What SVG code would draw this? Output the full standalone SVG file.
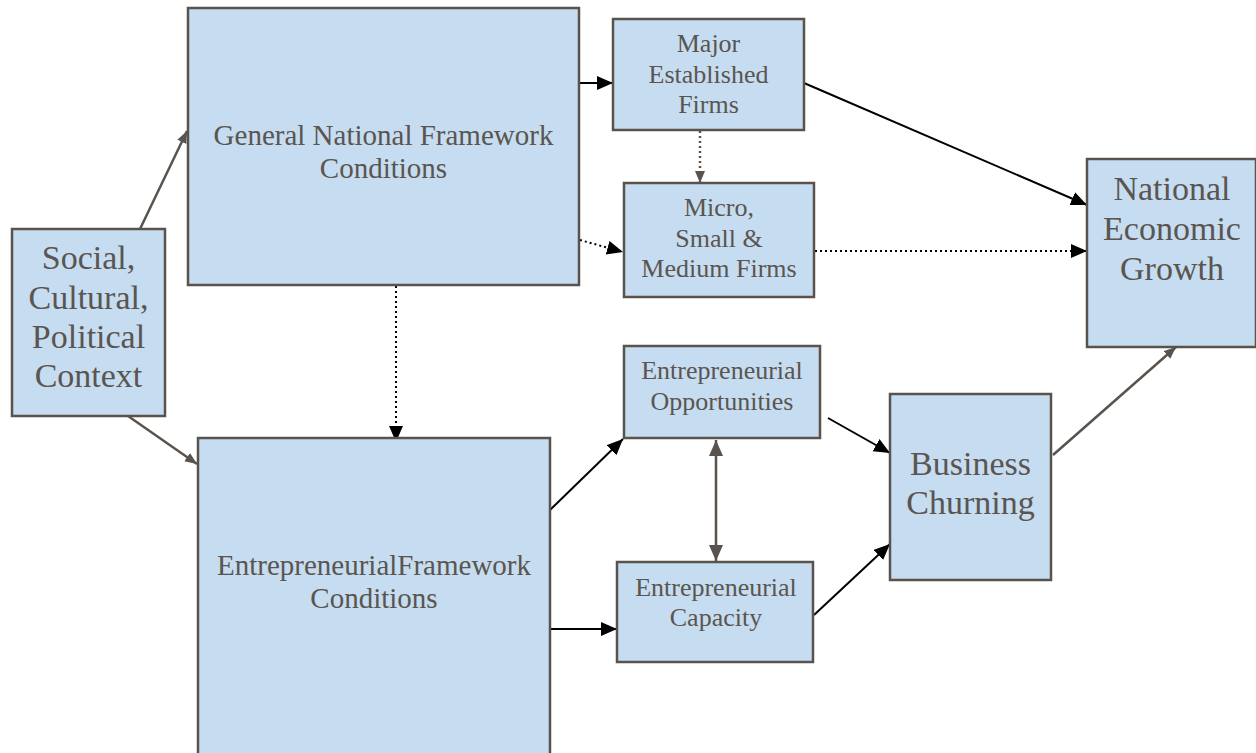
<svg xmlns="http://www.w3.org/2000/svg" width="1256" height="753" viewBox="0 0 1256 753">
<style>
.box{fill:#c6dcf0;stroke:#5a534d;stroke-width:2.5}
text{font-family:"Liberation Serif","Times New Roman",serif;fill:#5a5550;text-anchor:middle}
.f26{font-size:26px}
.f29{font-size:29px}
.f34{font-size:34px}
.blk{stroke:#000;stroke-width:2;fill:none}
.gry{stroke:#5a534d;stroke-width:2.5;fill:none}
.dot{stroke-dasharray:2,3}
</style>
<defs>
<marker id="ab" markerUnits="userSpaceOnUse" markerWidth="18" markerHeight="16" refX="16" refY="7" orient="auto"><path d="M0,0 L16,7 L0,14 z" fill="#000"/></marker>
<marker id="ag" markerUnits="userSpaceOnUse" markerWidth="14" markerHeight="12" refX="12" refY="5" orient="auto"><path d="M0,0 L12,5 L0,10 z" fill="#5a534d"/></marker>
<marker id="agb" markerUnits="userSpaceOnUse" markerWidth="18" markerHeight="16" refX="16" refY="7" orient="auto-start-reverse"><path d="M0,0 L16,7 L0,14 z" fill="#5a534d"/></marker>
</defs>
<g id="connectors">
<line class="gry" x1="140" y1="229" x2="187" y2="131" marker-end="url(#ag)"/>
<line class="gry" x1="128" y1="416" x2="197" y2="464" marker-end="url(#ag)"/>
<line class="blk" x1="579" y1="83" x2="613" y2="83" marker-end="url(#ab)"/>
<line class="gry dot" x1="700" y1="131" x2="700" y2="183" stroke-width="2" marker-end="url(#ag)"/>
<line class="blk dot" x1="580" y1="240" x2="623" y2="252" marker-end="url(#ab)"/>
<line class="blk" x1="804" y1="83" x2="1087" y2="205" marker-end="url(#ab)"/>
<line class="blk dot" x1="815" y1="251" x2="1087" y2="251" marker-end="url(#ab)"/>
<line class="blk dot" x1="396" y1="286" x2="396" y2="442" marker-end="url(#ab)"/>
<line class="blk" x1="550" y1="510" x2="623" y2="439" marker-end="url(#ab)"/>
<line class="blk" x1="551" y1="629" x2="617" y2="629" marker-end="url(#ab)"/>
<line class="gry" x1="716" y1="440" x2="716" y2="561" stroke-width="3" marker-start="url(#agb)" marker-end="url(#agb)"/>
<line class="blk" x1="828" y1="418" x2="890" y2="453" marker-end="url(#ab)"/>
<line class="blk" x1="814" y1="615" x2="890" y2="544" marker-end="url(#ab)"/>
<line class="gry" x1="1053" y1="455" x2="1176" y2="347" marker-end="url(#ag)"/>
</g>
<g id="social">
<rect class="box" x="12" y="229" width="153" height="187"/>
<text class="f34" x="88.5" y="269">Social,</text>
<text class="f34" x="88.5" y="309">Cultural,</text>
<text class="f34" x="88.5" y="348">Political</text>
<text class="f34" x="88.5" y="387">Context</text>
</g>
<g id="general">
<rect class="box" x="188" y="8" width="391" height="277"/>
<text class="f29" x="383.5" y="145">General National Framework</text>
<text class="f29" x="383.5" y="178">Conditions</text>
</g>
<g id="major">
<rect class="box" x="613" y="19" width="191" height="111"/>
<text class="f26" x="708.5" y="52">Major</text>
<text class="f26" x="708.5" y="83">Established</text>
<text class="f26" x="708.5" y="113">Firms</text>
</g>
<g id="micro">
<rect class="box" x="624" y="183" width="190" height="114"/>
<text class="f26" x="719" y="216">Micro,</text>
<text class="f26" x="719" y="247">Small &amp;</text>
<text class="f26" x="719" y="277">Medium Firms</text>
</g>
<g id="national">
<rect class="box" x="1087" y="159" width="169" height="188"/>
<text class="f34" x="1172" y="200">National</text>
<text class="f34" x="1172" y="240">Economic</text>
<text class="f34" x="1172" y="280">Growth</text>
</g>
<g id="efc">
<rect class="box" x="198" y="438" width="352" height="318"/>
<text class="f29" x="374" y="575">EntrepreneurialFramework</text>
<text class="f29" x="374" y="608">Conditions</text>
</g>
<g id="opportunities">
<rect class="box" x="624" y="346" width="196" height="92"/>
<text class="f26" x="722" y="379">Entrepreneurial</text>
<text class="f26" x="722" y="410">Opportunities</text>
</g>
<g id="capacity">
<rect class="box" x="617" y="562" width="196" height="100"/>
<text class="f26" x="716" y="596">Entrepreneurial</text>
<text class="f26" x="716" y="626">Capacity</text>
</g>
<g id="churning">
<rect class="box" x="890" y="394" width="161" height="186"/>
<text class="f34" x="970.5" y="475">Business</text>
<text class="f34" x="970.5" y="514">Churning</text>
</g>
</svg>
